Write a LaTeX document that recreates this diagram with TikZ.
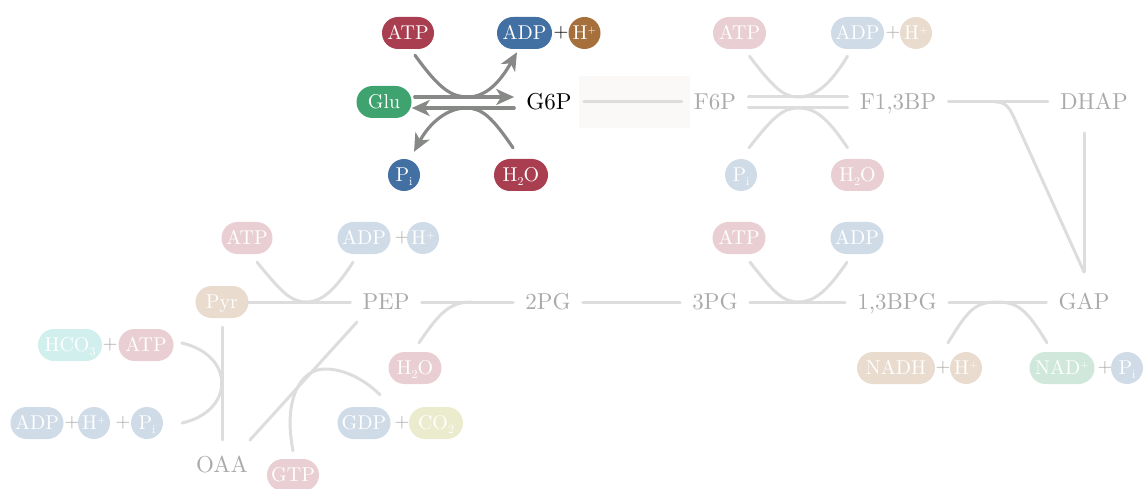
\documentclass[tikz,border=0pt]{standalone}
\usepackage{fontspec}
\setmainfont{lmroman10-regular.otf}
\usetikzlibrary{arrows.meta,calc}
\definecolor{cred}{RGB}{168,62,80}
\definecolor{cblue}{RGB}{66,112,163}
\definecolor{cbrown}{RGB}{166,112,60}
\definecolor{cgreen}{RGB}{62,163,110}
\definecolor{cteal}{RGB}{70,190,180}
\definecolor{colive}{RGB}{175,175,55}
\definecolor{fadetext}{RGB}{170,170,170}
\definecolor{fadeline}{RGB}{221,221,221}
\definecolor{arrowgray}{RGB}{135,137,135}
\definecolor{hlbg}{RGB}{250,249,247}
\newcommand\myplus{\raisebox{0.33em}{\fontsize{11}{11}\selectfont +}}
\newcommand\mysub[1]{\raisebox{-0.18em}{\fontsize{12}{12}\selectfont #1}}
\tikzset{
  met/.style={font=\fontsize{23}{25}\selectfont, text=fadetext, inner xsep=12pt, inner ysep=2pt, text height=15.7pt, text depth=0pt},
  metA/.style={met, text=black},
  pill/.style={rectangle, rounded corners=16pt, minimum height=32pt, inner xsep=0pt, inner ysep=0pt, font=\fontsize{20}{22}\selectfont, text=white, text height=13.7pt, text depth=0pt},
  ball/.style={circle, minimum size=32pt, inner sep=0pt, font=\fontsize{20}{22}\selectfont, text=white, text height=13.7pt, text depth=0pt},
  plus/.style={font=\fontsize{19}{20}\selectfont, text=fadetext, inner sep=0pt},
  plusA/.style={plus, text=black},
  fl/.style={draw=fadeline, line width=3pt, line cap=round},
  act/.style={draw=arrowgray, line width=3.2pt, line cap=round, -{Stealth[length=18pt,width=16pt,inset=5pt]}}
}
\begin{document}
\begin{tikzpicture}[x=1pt,y=-1pt]
\useasboundingbox (0,0) rectangle (1143,489);
\fill[hlbg] (579,76) rectangle (690,128);

% ---------- row 1: active step ----------
\node[pill, fill=cred, minimum width=52pt] (atpA) at (408,33) {ATP};
\node[pill, fill=cblue, minimum width=55pt] (adpA) at (524.5,33) {ADP};
\node[plusA] (plA) at (561,33) {+};
\node[ball, fill=cbrown] (hA) at (584.5,33) {H\myplus};
\node[pill, fill=cgreen, minimum width=55pt] (glu) at (384,102) {Glu};
\node[metA] (g6p) at (549,102) {G6P};
\node[ball, fill=cblue] (piA) at (404,175) {P\mysub{i}};
\node[pill, fill=cred, minimum width=54pt] (h2oA) at (521,175) {H\mysub{2}O};

\draw[act, shorten <=3pt] ([yshift=5pt]glu.east) -- ([yshift=5pt]glu.east -| g6p.west);
\draw[act] ([yshift=-6pt]glu.east -| g6p.west) -- ([yshift=-6pt]glu.east);
\draw[act] ($(atpA.south)+(7,6)$) .. controls (440,90) and (452,97) .. (468,97)
   .. controls (486,97) and (500,82) .. ($(adpA.south)+(-7.5,3)$);
\draw[act] ($(h2oA.north)+(-8,-11)$) .. controls (492,117) and (482,108) .. (466,108)
   .. controls (448,108) and (430,122) .. ($(piA.north)+(10,-7)$);

% ---------- row 1: faded ----------
\node[met] (f6p) at (715,102) {F6P};
\node[met] (f13bp) at (898,102) {F1,3BP};
\node[met] (dhap) at (1094,102) {DHAP};
\node[pill, fill=cred!25, minimum width=53pt] (atpB) at (739.5,33) {ATP};
\node[pill, fill=cblue!25, minimum width=53pt] (adpB) at (857.5,33) {ADP};
\node[plus] (plB) at (893,33) {+};
\node[ball, fill=cbrown!25] (hB) at (916,33) {H\myplus};
\node[ball, fill=cblue!25] (piB) at (741,175) {P\mysub{i}};
\node[pill, fill=cred!25, minimum width=53pt] (h2oB) at (857.5,175) {H\mysub{2}O};

\draw[fl] (g6p) -- (f6p);
\draw[fl] ([yshift=5pt]f6p.east) -- ([yshift=5pt]f13bp.west);
\draw[fl] ([yshift=-6pt]f6p.east) -- ([yshift=-6pt]f13bp.west);
\draw[fl] ($(atpB.south)+(10,7)$) .. controls (775,90) and (785,97) .. (798,97)
   .. controls (815,97) and (830,85) .. ($(adpB.south)+(-10,7)$);
\draw[fl] ($(piB.north)+(8,-11)$) .. controls (773,117) and (783,108) .. (798,108)
   .. controls (815,108) and (827,117) .. ($(h2oB.north)+(-10,-11)$);
\draw[fl] (f13bp) -- (dhap);

% ---------- row 2 ----------
\node[met] (gap) at (1084,302) {GAP};
\node[met] (bpg) at (897,302) {1,3BPG};
\node[met] (pg3) at (715,302) {3PG};
\node[met] (pg2) at (548,302) {2PG};
\node[met] (pep) at (386,302) {PEP};
\node[pill, fill=cbrown!25, minimum width=53pt] (pyr) at (222,302) {Pyr};
\node[met] (oaa) at (222,465) {OAA};

% DHAP / GAP
\coordinate (dhapfork) at (996,102);
\draw[fl] (dhapfork) .. controls ++(10,0) and ++(-6,-14) .. ($(dhapfork)+(20,20)$) -- ([yshift=30pt]gap.center);
\draw[fl] ([yshift=169pt]gap.center) -- ([yshift=30pt]gap.center);

% GAP -> 1,3BPG
\node[pill, fill=cbrown!25, minimum width=78pt] (nadh) at (896,368) {NADH};
\node[plus] (plC) at (943,368) {+};
\node[ball, fill=cbrown!25] (hC) at (966,368) {H\myplus};
\node[pill, fill=cgreen!25, minimum width=65pt] (nad) at (1062,368) {NAD\myplus};
\node[plus] (plD) at (1105,368) {+};
\node[ball, fill=cblue!25] (piC) at (1127,368) {P\mysub{i}};
\draw[fl] (bpg) -- (gap);
\draw[fl] ($(nadh.north)+(52,-9)$) .. controls (968,310) and (975,302) .. (997,302)
   .. controls (1018,302) and (1027,310) .. ($(nad.north)+(-15,-9)$);

% 1,3BPG -> 3PG
\node[pill, fill=cred!25, minimum width=53pt] (atpC) at (739,238) {ATP};
\node[pill, fill=cblue!25, minimum width=53pt] (adpC) at (857,238) {ADP};
\draw[fl] (pg3) -- (bpg);
\draw[fl] ($(atpC.south)+(11,8)$) .. controls (772,290) and (782,302) .. (798,302)
   .. controls (815,302) and (828,290) .. ($(adpC.south)+(-10,8)$);

% 3PG -> 2PG -> PEP
\draw[fl] (pg2) -- (pg3);
\node[pill, fill=cred!25, minimum width=53pt] (h2oC) at (415,368) {H\mysub{2}O};
\draw[fl] (pep) -- (pg2);
\draw[fl] ($(h2oC.north)+(4,-9)$) .. controls (440,312) and (450,302) .. (472,302);

% PEP -> Pyr
\node[pill, fill=cred!25, minimum width=51pt] (atpD) at (247,238) {ATP};
\node[pill, fill=cblue!25, minimum width=53pt] (adpD) at (364,238) {ADP};
\node[plus] (plE) at (402,238) {+};
\node[ball, fill=cblue!25] (hD) at (423,238) {H\myplus};
\draw[fl] (pyr) -- (pep);
\draw[fl] ($(atpD.south)+(10,8)$) .. controls (280,290) and (290,302) .. (306,302)
   .. controls (322,302) and (335,290) .. ($(adpD.south)+(-11,8)$);

% Pyr -> OAA
\node[pill, fill=cteal!25, minimum width=64pt] (hco3) at (70,345) {HCO\mysub{3}};
\node[plus] (plF) at (110,345) {+};
\node[pill, fill=cred!25, minimum width=55pt] (atpE) at (146,345) {ATP};
\node[pill, fill=cblue!25, minimum width=53pt] (adpE) at (37,423) {ADP};
\node[plus] (plG) at (72,423) {+};
\node[ball, fill=cblue!25] (hE) at (94,423) {H\myplus};
\node[plus] (plH) at (123,423) {+};
\node[ball, fill=cblue!25] (piE) at (147,423) {P\mysub{i}};
\draw[fl] ($(pyr.south)+(0,9)$) -- ($(oaa.north)+(0,-15)$);
\draw[fl] ($(atpE.east)+(8,-2)$) .. controls (235,355) and (235,411) .. ($(piE.east)+(19,0)$);

% OAA -> PEP
\node[pill, fill=cred!25, minimum width=52pt] (gtp) at (293,475) {GTP};
\node[pill, fill=cblue!25, minimum width=53pt] (gdp) at (364,423) {GDP};
\node[plus] (plI) at (402,423) {+};
\node[pill, fill=colive!25, minimum width=54pt] (co2) at (436,423) {CO\mysub{2}};
\draw[fl] ($(oaa)+(28,-25)$) -- ($(pep)+(-29,20)$);
\draw[fl] ($(gtp.north)+(0,-8)$) .. controls (283,400) and (300,369) .. (325,369)
   .. controls (345,369) and (365,380) .. ($(gdp.north)+(16,-12)$);
\end{tikzpicture}
\end{document}
